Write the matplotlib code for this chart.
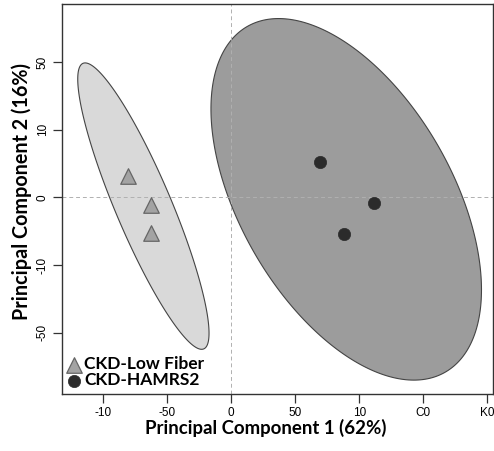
import numpy as np
import matplotlib
matplotlib.use("Agg")
import matplotlib.pyplot as plt
from matplotlib.patches import Polygon

# Puntos de cada grupo (PC1, PC2)
grupos = ["CKD-Low Fiber", "CKD-HAMRS2"]
pc1_low = [-80.5, -62.7, -62.7]
pc2_low = [3.1, -1.2, -5.2]
pc1_hamrs = [69.5, 111.5, 88.0]
pc2_hamrs = [5.2, -0.8, -5.4]

# Elipses: centro, semiejes en x / y y correlacion
elipse_cx = [-68.7, 89.8]
elipse_cy = [-1.3, -0.3]
elipse_hx = [51.3, 105.7]
elipse_hy = [21.15, 26.7]
elipse_rho = [-0.887, -0.50]

# Ticks (etiquetas tal como aparecen)
xticks = [-100, -50, 0, 50, 100, 150, 200]
xtick_labels = ["-10", "-50", "0", "50", "10", "C0", "K0"]
yticks = [20, 10, 0, -10, -20]
ytick_labels = ["50", "10", "0", "-10", "-50"]

fig = plt.figure(figsize=(4.94, 4.51), dpi=100)
ax = fig.add_axes([62 / 494, 1 - 394 / 451, (493 - 62) / 494, (394 - 4) / 451])

colores_relleno = ["#d9d9d9", "#9c9c9c"]
t = np.linspace(0, 2 * np.pi, 300)
for i in range(2):
    s = np.sqrt(1 - elipse_rho[i] ** 2)
    ex = elipse_cx[i] + elipse_hx[i] * np.cos(t)
    ey = elipse_cy[i] + elipse_hy[i] * (elipse_rho[i] * np.cos(t) + s * np.sin(t))
    ax.add_patch(Polygon(np.column_stack([ex, ey]), closed=True,
                         facecolor=colores_relleno[i], edgecolor="#444444",
                         linewidth=0.8, zorder=1))

# Lineas de referencia
ax.axhline(0, color="#b0b0b0", linestyle=(0, (4, 3)), linewidth=0.7, zorder=2)
ax.axvline(0, color="#b0b0b0", linestyle=(0, (4, 3)), linewidth=0.7, zorder=2)

ax.scatter(pc1_low, pc2_low, marker="^", s=125, facecolor="#a3a3a3",
           edgecolor="#666666", linewidth=0.9, zorder=3, label=grupos[0])
ax.scatter(pc1_hamrs, pc2_hamrs, marker="o", s=78, facecolor="#2b2b2b",
           edgecolor="#2b2b2b", linewidth=0.5, zorder=3, label=grupos[1])

ax.set_xlim(-132.3, 204.5)
ax.set_ylim(-29.05, 28.55)

ax.set_xticks(xticks)
ax.set_xticklabels(xtick_labels, fontfamily="Liberation Sans", fontsize=8.5)
ax.set_yticks(yticks)
ax.set_yticklabels(ytick_labels, fontfamily="Liberation Sans", fontsize=8.5,
                   rotation=90, va="center")
ax.tick_params(direction="out", length=6.5, width=0.9, color="#333333", pad=3)

for sp in ax.spines.values():
    sp.set_color("#333333")
    sp.set_linewidth(1.0)

fig.text(266 / 494, 1 - 428 / 451, "Principal Component 1 (62%)",
         ha="center", va="center", fontfamily="Lato", fontweight="bold", fontsize=13.4)
fig.text(22 / 494, 1 - 191 / 451, "Principal Component 2 (16%)",
         ha="center", va="center", rotation=90,
         fontfamily="Lato", fontweight="bold", fontsize=14.2)

ax.legend(loc="lower left", bbox_to_anchor=(-0.021, -0.016), frameon=False,
          prop={"family": "Lato", "weight": "bold", "size": 12.5},
          handletextpad=0.1, labelspacing=0.0, borderpad=0.2,
          handlelength=1.0, markerscale=1.0)

plt.savefig("out.png", dpi=100)
plt.close()
